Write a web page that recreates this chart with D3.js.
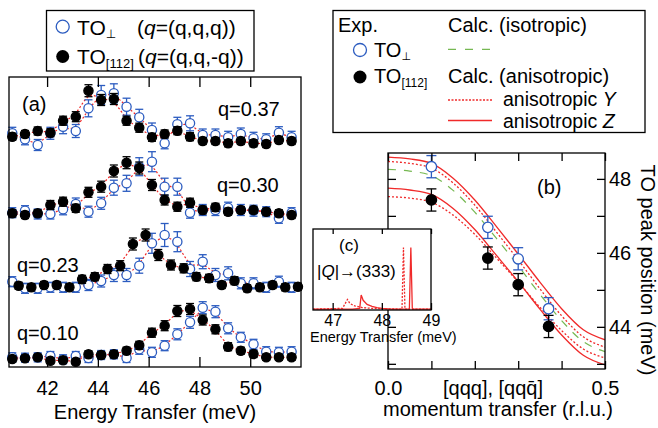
<!DOCTYPE html>
<html>
<head>
<meta charset="utf-8">
<script src="https://cdn.jsdelivr.net/npm/d3@7"></script>
<style>
  body { margin: 0; background: #fff; }
</style>
</head>
<body>
<svg id="chart" width="658" height="428"></svg>
<script>
// ---- data (a): energy grids and intensities (offset per q, arb. units)
const energyA = [40.63, 41.13, 41.63, 42.13, 42.63, 43.13, 43.63, 44.13, 44.63, 45.13, 45.63, 46.13,
    46.63, 47.13, 47.63, 48.13, 48.63, 49.13, 49.63, 50.13, 50.63, 51.13, 51.63];
const energyB = [40.88, 41.38, 41.88, 42.38, 42.88, 43.38, 43.88, 44.38, 44.88, 45.38, 45.88, 46.38,
    46.88, 47.38, 47.88, 48.38, 48.88, 49.38, 49.88, 50.38, 50.88, 51.38, 51.88];

const perp010 = [0.97, 0.93, 0.97, 1.1, 0.77, 1.1, 0.9, 1.2, 1.27, 0.9, 1.77, 1.47, 2.13, 3.27, 4.47, 5.93, 5.53, 3.87, 2.97, 2.27, 1.53, 1.47, 1.53];
const perp010Err = [0.45, 0.45, 0.45, 0.45, 0.45, 0.45, 0.45, 0.45, 0.45, 0.45, 0.5, 0.5, 0.5, 0.55, 0.6, 0.6, 0.6, 0.55, 0.5, 0.5, 0.5, 0.5, 0.5];
const t112_010 = [0.8, 0.87, 0.97, 0.63, 0.67, 0.53, 1.27, 1.2, 1.27, 1.63, 2.17, 3.43, 4.13, 5.6, 5.8, 4.7, 3.77, 2.03, 1.63, 1.3, 0.97, 0.97, 0.97];
const t112_010Err = [0.3, 0.3, 0.3, 0.3, 0.3, 0.3, 0.35, 0.35, 0.35, 0.35, 0.4, 0.45, 0.5, 0.55, 0.55, 0.5, 0.45, 0.4, 0.35, 0.35, 0.3, 0.3, 0.3];

const perp023 = [8.53, 7.87, 7.87, 7.97, 7.97, 7.97, 8.2, 8.6, 9.2, 9.2, 10.13, 12.37, 13.2, 12.53, 9.8, 10.53, 9.2, 9.37, 8.37, 8.37, 7.97, 8.53, 7.97];
const perp023Err = [0.5, 0.5, 0.5, 0.5, 0.5, 0.5, 0.55, 0.6, 0.65, 0.65, 0.75, 1.0, 1.15, 1.0, 0.75, 0.7, 0.65, 0.65, 0.55, 0.55, 0.5, 0.55, 0.5];
const t112_023 = [8.13, 7.97, 8.2, 8.2, 7.97, 8.77, 9.03, 9.8, 10.13, 12.3, 13.2, 11.2, 10.2, 9.87, 9.03, 8.87, 8.2, 8.63, 7.87, 7.97, 8.2, 7.97, 8.03];
const t112_023Err = [0.35, 0.35, 0.35, 0.35, 0.35, 0.4, 0.4, 0.45, 0.5, 0.6, 0.6, 0.55, 0.5, 0.45, 0.4, 0.4, 0.35, 0.4, 0.35, 0.35, 0.35, 0.35, 0.35];

const perp030 = [15.43, 15.63, 15.3, 15.3, 15.77, 16.3, 15.53, 16.37, 17.93, 18.37, 20.03, 20.53, 18.03, 18.03, 15.43, 15.7, 15.7, 15.93, 15.7, 15.63, 15.53, 14.87, 15.43];
const perp030Err = [0.5, 0.5, 0.5, 0.5, 0.55, 0.6, 0.55, 0.6, 0.75, 0.8, 0.9, 1.0, 0.85, 0.85, 0.55, 0.55, 0.55, 0.55, 0.55, 0.55, 0.5, 0.5, 0.5];
const t112_030 = [15.37, 15.2, 15.37, 16.2, 16.53, 15.87, 17.47, 18.03, 19.6, 20.43, 19.9, 18.2, 16.7, 16.03, 16.43, 15.7, 15.97, 15.53, 15.7, 15.7, 15.53, 15.37, 15.2];
const t112_030Err = [0.35, 0.35, 0.35, 0.45, 0.45, 0.4, 0.5, 0.55, 0.6, 0.6, 0.6, 0.55, 0.5, 0.45, 0.45, 0.4, 0.4, 0.35, 0.35, 0.35, 0.35, 0.35, 0.35];

const perp037 = [23.37, 22.77, 22.2, 23.37, 24.03, 23.6, 25.87, 27.2, 27.37, 26.03, 24.97, 23.7, 22.37, 24.27, 24.37, 23.2, 23.2, 22.97, 23.3, 22.87, 22.77, 23.43, 22.97];
const perp037Err = [0.6, 0.55, 0.55, 0.6, 0.7, 0.65, 0.85, 0.95, 0.95, 0.85, 0.8, 0.7, 0.55, 0.7, 0.75, 0.6, 0.6, 0.6, 0.6, 0.6, 0.55, 0.6, 0.6];
const t112_037 = [23.03, 23.3, 23.6, 23.43, 24.63, 25.03, 27.63, 26.7, 26.8, 24.63, 23.93, 22.97, 23.3, 23.63, 23.03, 22.6, 22.6, 22.37, 22.6, 22.37, 22.3, 22.7, 22.6];
const t112_037Err = [0.35, 0.35, 0.4, 0.4, 0.45, 0.5, 0.6, 0.55, 0.55, 0.45, 0.45, 0.4, 0.4, 0.4, 0.4, 0.35, 0.35, 0.35, 0.35, 0.35, 0.35, 0.35, 0.35];

const qLabels = ['q=0.10', 'q=0.23', 'q=0.30', 'q=0.37'];
const energyTicks = [42, 44, 46, 48, 50];

// ---- data (b): peak positions and calculated dispersions
const qExp = [0.1, 0.23, 0.3, 0.37];
const peakPerp = [48.33, 46.69, 45.84, 44.49];
const peakPerpErr = [0.3, 0.3, 0.3, 0.3];
const peak112 = [47.43, 45.86, 45.14, 44.01];
const peak112Err = [0.3, 0.3, 0.3, 0.3];

const qCalc = [0, 0.05, 0.1, 0.15, 0.2, 0.25, 0.3, 0.35, 0.4, 0.45, 0.5];
const calcZUpper = [48.59, 48.54, 48.42, 48.02, 47.43, 46.71, 45.97, 45.21, 44.49, 43.92, 43.65];
const calcYUpper = [48.47, 48.42, 48.29, 47.89, 47.29, 46.56, 45.81, 45.03, 44.30, 43.73, 43.45];
const calcIso = [48.26, 48.21, 48.09, 47.69, 47.10, 46.39, 45.65, 44.88, 44.17, 43.60, 43.33];
const calcYLower = [47.52, 47.48, 47.37, 47.02, 46.50, 45.86, 45.21, 44.53, 43.90, 43.40, 43.16];
const calcZLower = [47.75, 47.70, 47.58, 47.20, 46.63, 45.93, 45.22, 44.48, 43.78, 43.23, 42.97];

const qTicks = [0, 0.1, 0.2, 0.3, 0.4, 0.5];
const peakTicks = [43, 44, 45, 46, 47, 48];
const peakLabels = [44, 46, 48];

// ---- data (c): calculated spectra at |Q| -> (333)
const specZ = [[46.6, 0.01], [47.4, 0.01], [47.55, 0.02], [47.58, 0.185], [47.62, 0.12], [47.7, 0.07], [47.8, 0.045],
    [47.9, 0.03], [48.0, 0.02], [48.2, 0.01], [48.56, 0.01], [48.59, 0.77], [48.62, 0.01], [49.0, 0.01]];
const specY = [[46.6, 0.01], [47.2, 0.02], [47.3, 0.13], [47.35, 0.08], [47.45, 0.05], [47.6, 0.03], [47.8, 0.02],
    [48.41, 0.01], [48.44, 0.77], [48.47, 0.01], [49.0, 0.01]];
const insetTicks = [47, 48, 49];

const FONT = '"Liberation Sans", Arial, "DejaVu Sans", sans-serif';
const RED = '#f02a2a';
const BLUE = '#2c5cc0';
const GREEN = '#76b852';

const svg = d3.select('#chart').attr('font-family', FONT);

function txt(x, y, s, size, anchor) {
    return svg.append('text')
        .attr('x', x).attr('y', y)
        .attr('font-size', size)
        .attr('text-anchor', anchor || 'start')
        .text(s);
}

function errorBars(g, xs, ys, xv, v, err, color, cap) {
    const pts = xv.map((d, i) => ({ x: xs(d), lo: ys(v[i] - err[i]), hi: ys(v[i] + err[i]) }));
    const eb = g.append('g').attr('stroke', color).attr('stroke-width', 1.3);
    eb.selectAll('.v').data(pts).join('line')
        .attr('x1', d => d.x).attr('x2', d => d.x)
        .attr('y1', d => d.lo).attr('y2', d => d.hi);
    ['lo', 'hi'].forEach(k => {
        eb.selectAll('.' + k).data(pts).join('line')
            .attr('x1', d => d.x - cap).attr('x2', d => d.x + cap)
            .attr('y1', d => d[k]).attr('y2', d => d[k]);
    });
}

function markers(g, xs, ys, xv, v, filled, r) {
    g.append('g').selectAll('circle')
        .data(xv.map((d, i) => [d, v[i]]))
        .join('circle')
        .attr('cx', d => xs(d[0]))
        .attr('cy', d => ys(d[1]))
        .attr('r', r)
        .attr('fill', filled ? '#000' : '#fff')
        .attr('stroke', filled ? '#000' : BLUE)
        .attr('stroke-width', 1.3);
}

function styleAxis(g, size) {
    g.attr('font-family', FONT).attr('font-size', size);
    g.select('.domain').remove();
    g.selectAll('.tick line').attr('stroke-width', 1.3);
}

// ================= panel (a)
const xa = d3.scaleLinear().domain([40.5, 52]).range([9, 301]);
const ya = d3.scaleLinear().domain([0, 29]).range([367, 77]);

svg.append('clipPath').attr('id', 'clipA')
    .append('rect').attr('x', 9).attr('y', 77).attr('width', 292).attr('height', 290);

const rows = [
    { openE: energyA, open: perp010, openErr: perp010Err, fillE: energyA, fill: t112_010, fillErr: t112_010Err },
    { openE: energyA, open: perp023, openErr: perp023Err, fillE: energyB, fill: t112_023, fillErr: t112_023Err },
    { openE: energyA, open: perp030, openErr: perp030Err, fillE: energyA, fill: t112_030, fillErr: t112_030Err },
    { openE: energyA, open: perp037, openErr: perp037Err, fillE: energyA, fill: t112_037, fillErr: t112_037Err }
];

const gA = svg.append('g');
const fitLine = d3.line().x(d => xa(d[0])).y(d => ya(d[1])).curve(d3.curveBasis);

rows.forEach(r => {
    [[r.openE, r.open], [r.fillE, r.fill]].forEach(([e, v]) => {
        gA.append('path')
            .datum(e.map((d, i) => [d, v[i]]))
            .attr('clip-path', 'url(#clipA)')
            .attr('fill', 'none')
            .attr('stroke', RED)
            .attr('stroke-width', 1.2)
            .attr('stroke-dasharray', '2,2')
            .attr('d', fitLine);
    });
});
rows.forEach(r => {
    errorBars(gA, xa, ya, r.openE, r.open, r.openErr, BLUE, 4);
    markers(gA, xa, ya, r.openE, r.open, false, 4.6);
    errorBars(gA, xa, ya, r.fillE, r.fill, r.fillErr, '#000', 4);
    markers(gA, xa, ya, r.fillE, r.fill, true, 4.6);
});

// axes (a)
svg.append('g').attr('transform', 'translate(0,367)')
    .call(d3.axisBottom(xa).tickValues(energyTicks).tickSize(-10).tickPadding(14).tickFormat(d3.format('d')))
    .call(g => styleAxis(g, 20));
svg.append('g').attr('transform', 'translate(0,77)')
    .call(d3.axisTop(xa).tickValues(energyTicks).tickSize(-10).tickFormat(''))
    .call(g => styleAxis(g, 20));
svg.append('rect').attr('x', 9).attr('y', 77).attr('width', 292).attr('height', 290)
    .attr('fill', 'none').attr('stroke', '#000').attr('stroke-width', 1.3);

txt(155, 419, 'Energy Transfer (meV)', 20, 'middle');
txt(22, 111, '(a)', 20);
txt(17, 340, qLabels[0], 20);
txt(17, 272, qLabels[1], 20);
txt(217, 192, qLabels[2], 20);
txt(218, 116, qLabels[3], 20);

// legend (a)
svg.append('rect').attr('x', 46.5).attr('y', 10.5).attr('width', 207.5).attr('height', 60.5)
    .attr('fill', '#fff').attr('stroke', '#000').attr('stroke-width', 1.3);
svg.append('circle').attr('cx', 62.7).attr('cy', 26.7).attr('r', 6.5)
    .attr('fill', '#fff').attr('stroke', BLUE).attr('stroke-width', 1.3);
svg.append('circle').attr('cx', 62.7).attr('cy', 56.5).attr('r', 6.5).attr('fill', '#000');
let t = txt(77, 35, '', 21);
t.append('tspan').text('TO');
t.append('tspan').attr('font-size', 12).attr('dy', 3).text('⊥');
t = txt(137, 35, '', 21);
t.append('tspan').text('(');
t.append('tspan').attr('font-style', 'italic').text('q');
t.append('tspan').text('=(q,q,q))');
t = txt(77, 64, '', 21);
t.append('tspan').text('TO');
t.append('tspan').attr('font-size', 13).attr('dy', 4).text('[112]');
t = txt(138, 64, '', 21);
t.append('tspan').text('(');
t.append('tspan').attr('font-style', 'italic').text('q');
t.append('tspan').text('=(q,q,-q))');

// ================= panel (b)
const xb = d3.scaleLinear().domain([0, 0.5]).range([388, 605]);
const yb = d3.scaleLinear().domain([42.86, 48.7]).range([369, 153]);

svg.append('clipPath').attr('id', 'clipB')
    .append('rect').attr('x', 388).attr('y', 153).attr('width', 217).attr('height', 216);

const gB = svg.append('g');
const calcLine = d3.line().x((d, i) => xb(qCalc[i])).y(d => yb(d)).curve(d3.curveMonotoneX);

[[calcZUpper, null], [calcZLower, null], [calcYUpper, '2,2'], [calcYLower, '2,2']].forEach(([v, dash]) => {
    gB.append('path').datum(v)
        .attr('clip-path', 'url(#clipB)')
        .attr('fill', 'none').attr('stroke', RED).attr('stroke-width', 1.3)
        .attr('stroke-dasharray', dash)
        .attr('d', calcLine);
});
gB.append('path').datum(calcIso)
    .attr('clip-path', 'url(#clipB)')
    .attr('fill', 'none').attr('stroke', GREEN).attr('stroke-width', 1.2)
    .attr('stroke-dasharray', '8,8')
    .attr('d', calcLine);

errorBars(gB, xb, yb, qExp, peakPerp, peakPerpErr, BLUE, 5);
markers(gB, xb, yb, qExp, peakPerp, false, 5.2);
errorBars(gB, xb, yb, qExp, peak112, peak112Err, '#000', 5);
markers(gB, xb, yb, qExp, peak112, true, 5.2);

// axes (b)
svg.append('g').attr('transform', 'translate(0,369)')
    .call(d3.axisBottom(xb).tickValues(qTicks).tickSize(-8).tickPadding(12)
        .tickFormat(d => (d === 0 || d === 0.5) ? d3.format('.1f')(d) : ''))
    .call(g => styleAxis(g, 20));
svg.append('g').attr('transform', 'translate(0,153)')
    .call(d3.axisTop(xb).tickValues(qTicks).tickSize(-8).tickFormat(''))
    .call(g => styleAxis(g, 20));
svg.append('g').attr('transform', 'translate(388,0)')
    .call(d3.axisLeft(yb).tickValues(peakTicks).tickSize(-8).tickFormat(''))
    .call(g => styleAxis(g, 20));
svg.append('g').attr('transform', 'translate(605,0)')
    .call(d3.axisRight(yb).tickValues(peakTicks).tickSize(-8).tickPadding(4)
        .tickFormat(d => peakLabels.includes(d) ? d : ''))
    .call(g => styleAxis(g, 20));
svg.append('rect').attr('x', 388).attr('y', 153).attr('width', 217).attr('height', 216)
    .attr('fill', 'none').attr('stroke', '#000').attr('stroke-width', 1.3);

txt(493, 395, '[qqq], [qqq\u0304]', 20, 'middle');
txt(498, 416, 'momentum transfer (r.l.u.)', 20, 'middle');
txt(537, 194, '(b)', 20);
svg.append('text')
    .attr('transform', 'translate(641,270) rotate(90)')
    .attr('font-size', 20).attr('text-anchor', 'middle')
    .text('TO peak position (meV)');

// legend (b)
svg.append('rect').attr('x', 333).attr('y', 10.5).attr('width', 312).attr('height', 122)
    .attr('fill', '#fff').attr('stroke', '#000').attr('stroke-width', 1.3);
txt(338, 32, 'Exp.', 20);
txt(448, 32, 'Calc. (isotropic)', 20);
svg.append('circle').attr('cx', 360).attr('cy', 50).attr('r', 6.5)
    .attr('fill', '#fff').attr('stroke', BLUE).attr('stroke-width', 1.3);
t = txt(374, 57, '', 20);
t.append('tspan').text('TO');
t.append('tspan').attr('font-size', 11).attr('dy', 3).text('⊥');
svg.append('line').attr('x1', 448).attr('x2', 494).attr('y1', 49.3).attr('y2', 49.3)
    .attr('stroke', GREEN).attr('stroke-width', 1.2).attr('stroke-dasharray', '8,9');
svg.append('circle').attr('cx', 360).attr('cy', 77).attr('r', 6.5).attr('fill', '#000');
t = txt(374, 83, '', 20);
t.append('tspan').text('TO');
t.append('tspan').attr('font-size', 12).attr('dy', 4).text('[112]');
txt(448, 83, 'Calc. (anisotropic)', 20);
svg.append('line').attr('x1', 448).attr('x2', 492).attr('y1', 100).attr('y2', 100)
    .attr('stroke', RED).attr('stroke-width', 1.3).attr('stroke-dasharray', '2,1.5');
t = txt(503, 106, 'anisotropic ', 19.5);
t.append('tspan').attr('font-style', 'italic').text('Y');
svg.append('line').attr('x1', 448).attr('x2', 492).attr('y1', 120.5).attr('y2', 120.5)
    .attr('stroke', RED).attr('stroke-width', 1.3);
t = txt(503, 128, 'anisotropic ', 19.5);
t.append('tspan').attr('font-style', 'italic').text('Z');

// ================= inset (c)
const xc = d3.scaleLinear().domain([46.6, 49]).range([313, 431]);
const yc = d3.scaleLinear().domain([0, 1]).range([310, 229]);

svg.append('rect').attr('x', 313).attr('y', 229).attr('width', 118).attr('height', 81).attr('fill', '#fff');
svg.append('clipPath').attr('id', 'clipC')
    .append('rect').attr('x', 313).attr('y', 229).attr('width', 118).attr('height', 81);
const specLine = d3.line().x(d => xc(d[0])).y(d => yc(d[1]));
svg.append('path').datum(specY)
    .attr('clip-path', 'url(#clipC)')
    .attr('fill', 'none').attr('stroke', RED).attr('stroke-width', 1.3).attr('stroke-dasharray', '2,1.5')
    .attr('d', specLine);
svg.append('path').datum(specZ)
    .attr('clip-path', 'url(#clipC)')
    .attr('fill', 'none').attr('stroke', RED).attr('stroke-width', 1.3)
    .attr('d', specLine);

svg.append('g').attr('transform', 'translate(0,310)')
    .call(d3.axisBottom(xc).tickValues(insetTicks).tickSize(-7).tickPadding(5).tickFormat(d3.format('d')))
    .call(g => styleAxis(g, 16));
svg.append('g').attr('transform', 'translate(0,229)')
    .call(d3.axisTop(xc).tickValues(insetTicks).tickSize(-5).tickFormat(''))
    .call(g => styleAxis(g, 16));
svg.append('rect').attr('x', 313).attr('y', 229).attr('width', 118).attr('height', 81)
    .attr('fill', 'none').attr('stroke', '#000').attr('stroke-width', 1.3);

txt(339, 251, '(c)', 17);
t = txt(317, 277, '|', 17);
t.append('tspan').attr('font-style', 'italic').text('Q');
t.append('tspan').text('|\u2192(333)');
txt(310, 342, 'Energy Transfer (meV)', 14.5);
</script>
</body>
</html>
